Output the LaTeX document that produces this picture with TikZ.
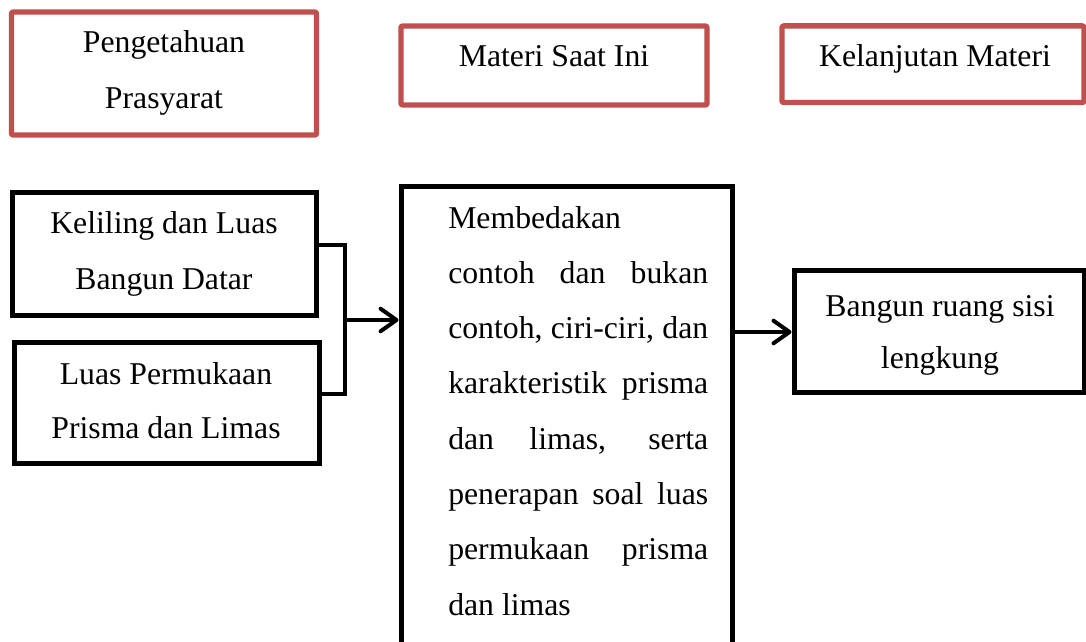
\documentclass[tikz,border=0pt]{standalone}
\usepackage{fontspec}
\setmainfont{Liberation Serif}
\usetikzlibrary{arrows.meta}
\definecolor{boxred}{RGB}{192,80,77}
\newcommand\txtlines[3]{\parbox[t]{#1}{\centering\fontsize{23.8}{#2}\selectfont #3}}
\newcommand\jline[1]{\makebox[195pt][s]{#1}}
\begin{document}
\begin{tikzpicture}[x=0.75pt,y=-0.75pt,
  redbox/.style={draw=boxred,line width=4.1pt,line join=round,rounded corners=1pt,inner sep=0pt,outer sep=0pt},
  blackbox/.style={draw=black,line width=3.75pt,line join=miter,inner sep=0pt},
  conn/.style={draw=black,line width=3pt},
  arr/.style={conn,-{Straight Barb[length=12pt,width=17pt,round]}},
  txt/.style={inner sep=0pt,anchor=base,font=\fontsize{23.8}{42}\selectfont}]
\useasboundingbox (0,0) rectangle (1086,642);
% header boxes
\node[redbox,minimum width=228.75pt,minimum height=92.25pt] (pre) at (164,73.5) {};
\node[redbox,minimum width=229.5pt,minimum height=59.25pt] (now) at (554,65.5) {};
\node[redbox,minimum width=226.5pt,minimum height=57.4pt] (next) at (933,64.25) {};
\node[txt] (tpre) at (164,53) {\txtlines{220pt}{42pt}{Pengetahuan\\Prasyarat}};
\node[txt] (tnow) at (554,67) {Materi Saat Ini};
\node[txt] (tnext) at (935,67) {Kelanjutan Materi};
% content boxes
\node[blackbox,minimum width=228pt,minimum height=92.25pt] (kel) at (164,253.5) {};
\node[blackbox,minimum width=228.4pt,minimum height=90.75pt] (luas) at (166.75,402.5) {};
\node[blackbox,minimum width=248.25pt,minimum height=355.1pt] (main) at (566.5,423.25) {};
\node[blackbox,minimum width=217.5pt,minimum height=91.5pt] (bang) at (939,331) {};
\node[txt] (tkel) at (164,233) {\txtlines{220pt}{42.75pt}{Keliling dan Luas\\Bangun Datar}};
\node[txt] (tluas) at (166,384) {\txtlines{220pt}{40.5pt}{Luas Permukaan\\Prisma dan Limas}};
\node[txt] (tbang) at (940,316) {\txtlines{215pt}{39pt}{Bangun ruang sisi\\lengkung}};
\node[inner sep=0pt,anchor=base west] (tmain) at (448,228) {\parbox[t]{195pt}{\fontsize{23.8}{41.5pt}\selectfont
Membedakan\\
\jline{contoh dan bukan}\\
\jline{contoh, ciri-ciri, dan}\\
\jline{karakteristik prisma}\\
\jline{dan limas, serta}\\
\jline{penerapan soal luas}\\
\jline{permukaan prisma}\\
dan limas}};
% connectors
\coordinate (j) at (345,320);
\draw[conn] (kel.east |- 0,245) -- (j |- 0,245) -- (j |- 0,394) -- (luas.east |- 0,394);
\draw[arr] (j) -- (main.west |- j);
\draw[arr] (main.east |- 0,332) -- (bang.west |- 0,332);
\end{tikzpicture}
\end{document}
